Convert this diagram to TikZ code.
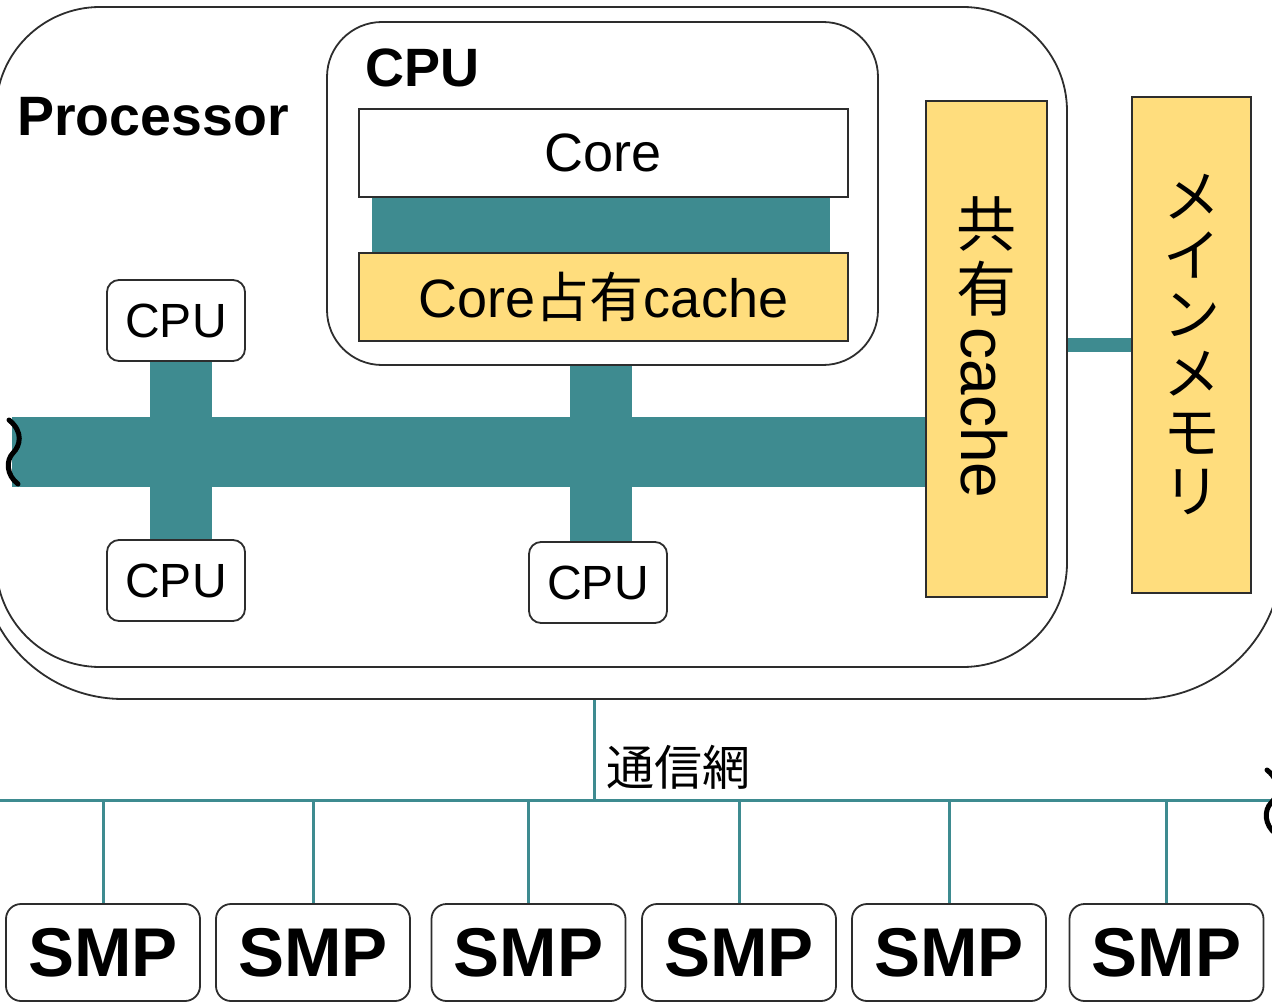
\documentclass[tikz,border=0pt]{standalone}
\usepackage{fontspec}
\setmainfont{Liberation Sans}
\newfontfamily\jp{Noto Sans CJK JP}
\pgfdeclarelayer{bg}
\pgfsetlayers{bg,main}
\definecolor{busteal}{RGB}{62,139,144}
\definecolor{cacheyel}{RGB}{255,221,125}
\definecolor{edgegray}{RGB}{45,45,45}
\begin{document}
\begin{tikzpicture}[x=1pt,y=-1pt,
  frame/.style={draw=edgegray,line width=1.8pt,rectangle,inner sep=0pt,outer sep=0pt},
  bar/.style={busteal,line width=#1},
  net/.style={busteal,line width=3pt},
  boldtxt/.style={font=\bfseries\fontsize{#1}{#1}\selectfont},
  plaintxt/.style={font=\fontsize{#1}{#1}\selectfont},
  squiggle/.style={draw=black,line width=5pt,line cap=round}]
\useasboundingbox (0,0) rectangle (1272,1003);
\clip (0,0) rectangle (1272,1003);
% boxes
\node[frame,rounded corners=142pt,minimum width=1301pt,minimum height=849pt] (outer) at (631.5,274.5) {};
\node[frame,rounded corners=104pt,minimum width=1071pt,minimum height=660pt] (proc) at (531.5,337) {};
\node[anchor=base west,inner sep=0pt,boldtxt=55.5] (proclabel) at (17,136) {Processor};
\node[frame,rounded corners=55pt,minimum width=551pt,minimum height=343pt] (cpu) at (602.5,193.5) {};
\node[anchor=base west,inner sep=0pt,boldtxt=54] (cpulabel) at (365,87) {CPU};
\node[frame,fill=white,minimum width=489pt,minimum height=88pt,plaintxt=54] (core) at (603.5,153) {Core};
\node[frame,fill=cacheyel,minimum width=489pt,minimum height=88pt,plaintxt=54] (pcache) at (603.5,297) {Core{\jp 占有}cache};
\node[frame,fill=white,rounded corners=12pt,minimum width=138pt,minimum height=81pt,plaintxt=48] (cpuTL) at (176,320.5) {CPU};
\node[frame,fill=white,rounded corners=12pt,minimum width=138pt,minimum height=81pt,plaintxt=48] (cpuBL) at (176,580.5) {CPU};
\node[frame,fill=white,rounded corners=12pt,minimum width=138pt,minimum height=81pt,plaintxt=48] (cpuBM) at (598,582.5) {CPU};
\node[frame,fill=cacheyel,minimum width=121pt,minimum height=496pt] (shared) at (986.5,349) {};
\node[inner sep=0pt,font=\jp\fontsize{60}{60}\selectfont] (sh1) at (986,224) {共};
\node[inner sep=0pt,font=\jp\fontsize{60}{60}\selectfont] (sh2) at (986,289) {有};
\node[inner sep=0pt,rotate=-90,plaintxt=64] (sh3) at (984,413) {cache};
\node[frame,fill=cacheyel,minimum width=119pt,minimum height=496pt,align=center,font=\jp\fontsize{57}{59}\selectfont] (mem) at (1191.5,345) {メ\\イ\\ン\\メ\\モ\\リ};
\foreach \x/\n in {103/1,313/2,528.5/3,739/4,949/5,1166.5/6}
  \node[frame,fill=white,rounded corners=15pt,minimum width=194pt,minimum height=97pt,boldtxt=69] (smp\n) at (\x,952.5) {SMP};
% coordinates
\coordinate (busL) at (12,452);
\coordinate (memy) at (0,345);
\coordinate (netL) at (0,800);
\coordinate (netR) at (1272,800);
\coordinate (netJ) at (594,800);
\coordinate (mtop) at ([xshift=-1.5pt]cpu.south);
\node[anchor=base west,inner sep=0pt,font=\jp\fontsize{48}{48}\selectfont] (netlabel) at (606,785) {通信網};
% connectors
\begin{pgfonlayer}{bg}
\draw[bar=70pt] (busL) -- (busL -| shared.west);
\draw[bar=62pt] ([xshift=5pt]cpuTL.south) -- ([xshift=5pt]cpuBL.north);
\draw[bar=62pt] (mtop) -- (mtop |- cpuBM.north);
\draw[bar=458pt] ([xshift=-2.5pt]core.south) -- ([xshift=-2.5pt]pcache.north);
\draw[bar=14pt] (proc.east |- memy) -- (mem.west |- memy);
\draw[net] (netL) -- (netR);
\draw[net] (netJ |- outer.south) -- (netJ);
\foreach \n in {1,...,6} \draw[net] (smp\n.north) -- (smp\n.north |- netL);
\end{pgfonlayer}
% break marks
\draw[squiggle] (9,420) .. controls (24,432) and (20,446) .. (13,453) .. controls (6,460) and (6,475) .. (18,484);
\draw[squiggle] (1267,770) .. controls (1282,782) and (1278,796) .. (1271,803) .. controls (1264,810) and (1264,825) .. (1276,834);
\end{tikzpicture}
\end{document}
